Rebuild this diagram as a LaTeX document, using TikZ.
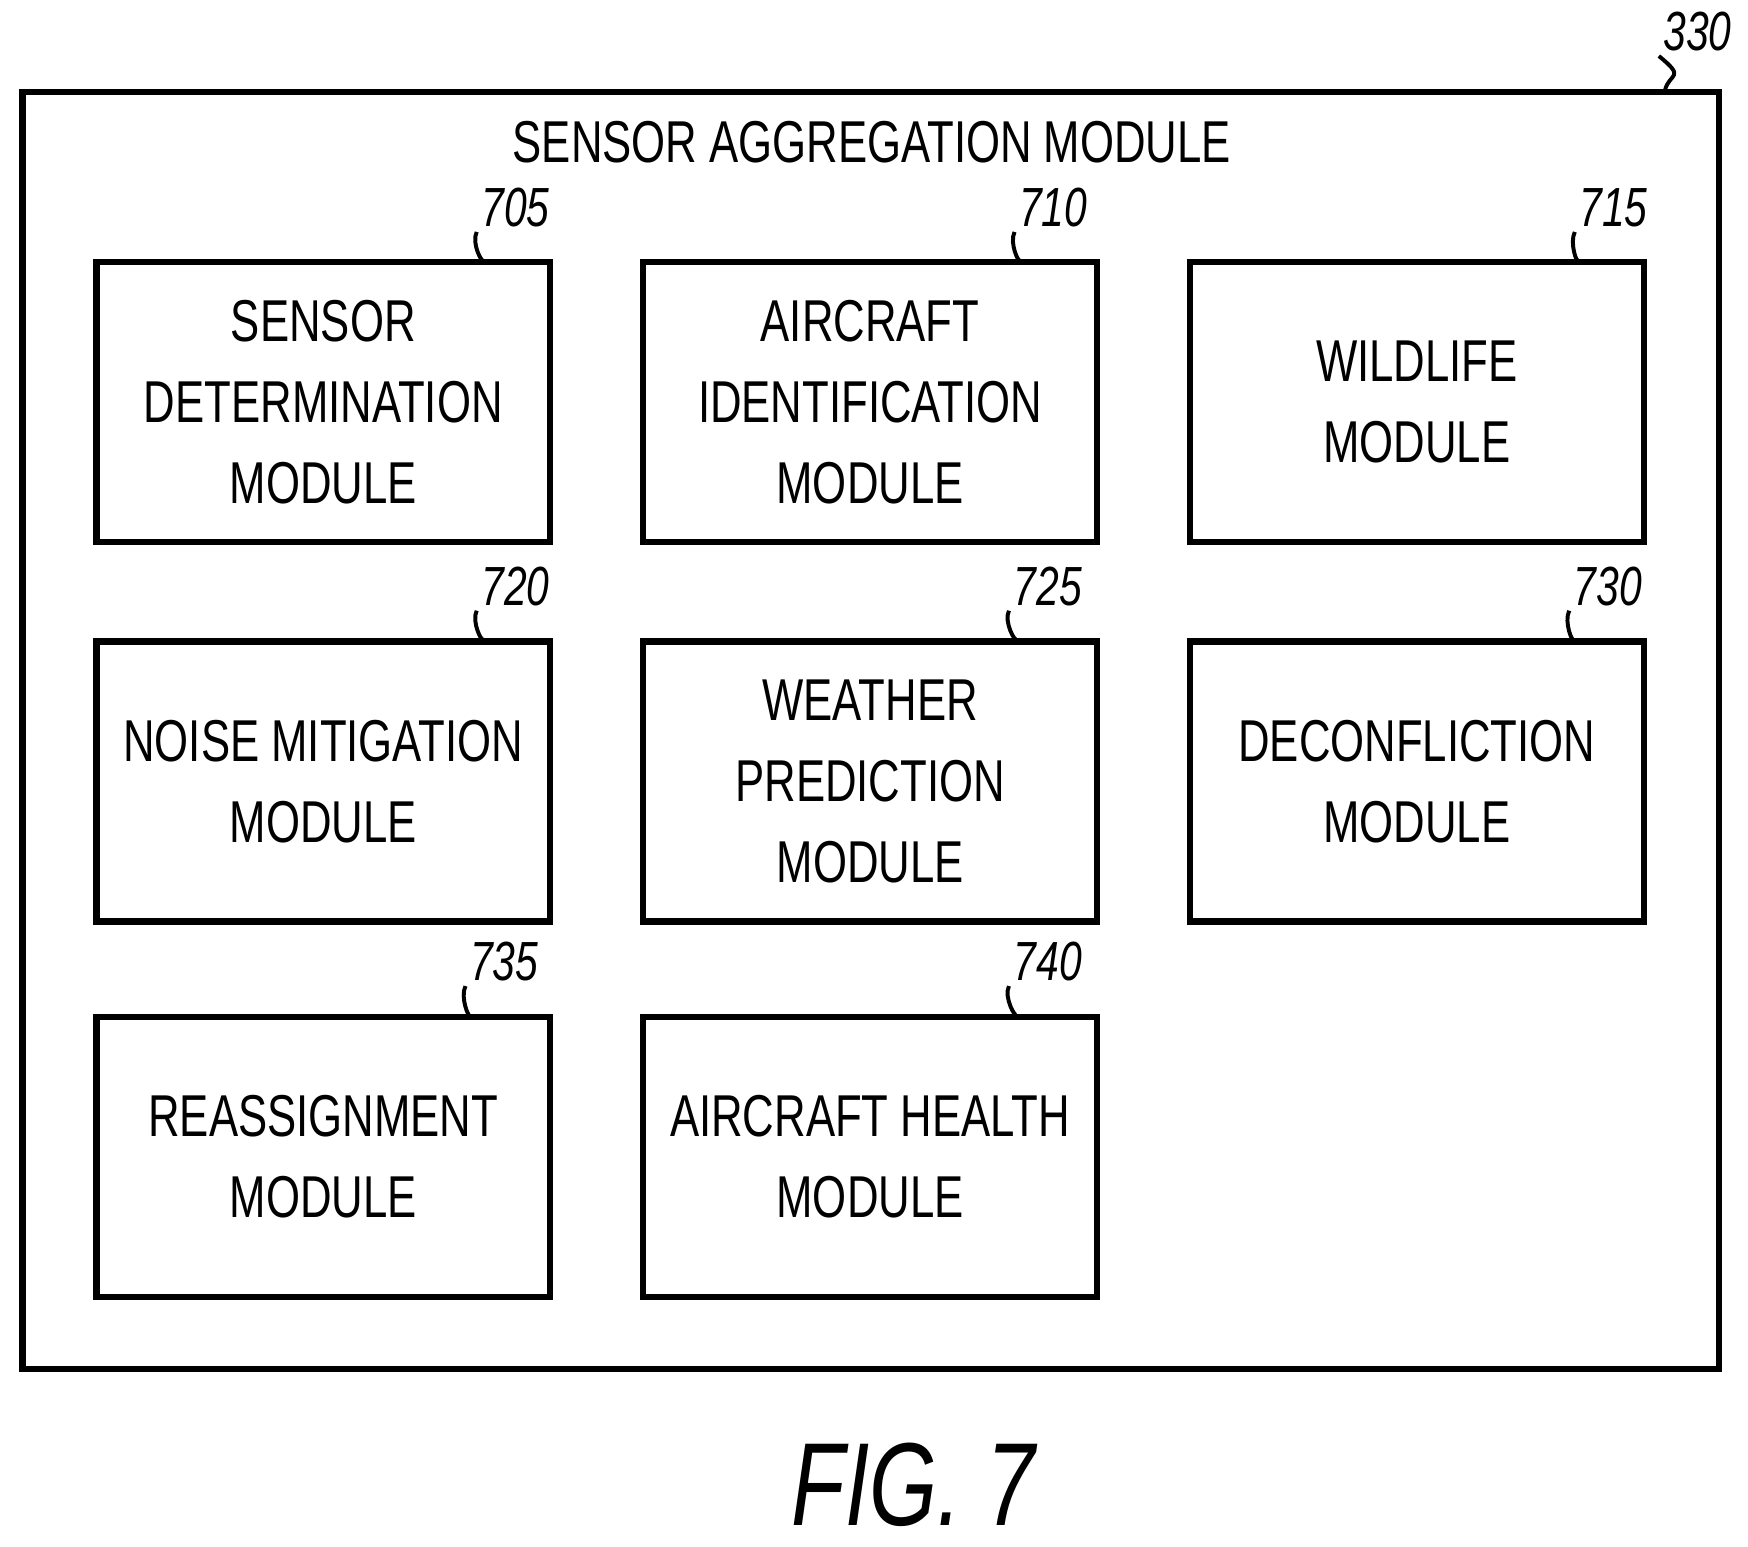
\documentclass[tikz,border=0pt]{standalone}
\usepackage{fontspec}
\setmainfont{Liberation Sans}[FakeStretch=0.74]
\usetikzlibrary{positioning}
\tikzset{
  module/.style={draw, line width=1.6pt, minimum width=4.05cm, minimum height=2.5cm, align=center, font=\fontsize{15}{20.5}\selectfont},
  refnum/.style={font=\itshape\fontsize{14}{16}\selectfont, anchor=south, inner sep=1pt},
  leader/.style={line width=1pt}
}
\begin{document}
\begin{tikzpicture}

\useasboundingbox (0,0) rectangle (15.6,-13.8);

\draw [line width=1.6pt] (0.2,-0.82) rectangle (15.34,-12.22);
\node [font=\fontsize{15}{18}\selectfont] (title) at (7.78,-1.27) {SENSOR AGGREGATION MODULE};
\node [refnum] (n330) at (15.15,-0.5) {330};
\draw [leader] (14.86,-0.8) .. controls (14.9,-0.65) and (15.05,-0.7) .. (n330.south west);

% first row
\node [module] (sensdet) at (2.885,-3.59) {SENSOR\\DETERMINATION\\MODULE};
\node [module] (acid) at (7.765,-3.59) {AIRCRAFT\\IDENTIFICATION\\MODULE};
\node [module] (wild) at (12.645,-3.59) {WILDLIFE\\MODULE};

% second row
\node [module] (noise) at (2.885,-6.975) {NOISE MITIGATION\\MODULE};
\node [module] (weather) at (7.765,-6.975) {WEATHER\\PREDICTION\\MODULE};
\node [module] (decon) at (12.645,-6.975) {DECONFLICTION\\MODULE};

% third row
\node [module] (reassign) at (2.885,-10.325) {REASSIGNMENT\\MODULE};
\node [module] (health) at (7.765,-10.325) {AIRCRAFT HEALTH\\MODULE};

% reference numerals
\node [refnum] (n705) at (4.6,-2.07) {705};
\draw [leader] ([xshift=-0.63cm]sensdet.north east) .. controls +(0,-0.05) and +(-0.05,-0.1) .. (n705.south west);
\node [refnum] (n710) at (9.4,-2.07) {710};
\draw [leader] ([xshift=-0.72cm]acid.north east) .. controls +(0,-0.05) and +(-0.05,-0.1) .. (n710.south west);
\node [refnum] (n715) at (14.4,-2.07) {715};
\draw [leader] ([xshift=-0.62cm]wild.north east) .. controls +(0,-0.05) and +(-0.05,-0.1) .. (n715.south west);
\node [refnum] (n720) at (4.6,-5.45) {720};
\draw [leader] ([xshift=-0.63cm]noise.north east) .. controls +(0,-0.05) and +(-0.05,-0.1) .. (n720.south west);
\node [refnum] (n725) at (9.35,-5.45) {725};
\draw [leader] ([xshift=-0.75cm]weather.north east) .. controls +(0,-0.05) and +(-0.05,-0.1) .. (n725.south west);
\node [refnum] (n730) at (14.35,-5.45) {730};
\draw [leader] ([xshift=-0.66cm]decon.north east) .. controls +(0,-0.05) and +(-0.05,-0.1) .. (n730.south west);
\node [refnum] (n735) at (4.5,-8.8) {735};
\draw [leader] ([xshift=-0.75cm]reassign.north east) .. controls +(0,-0.05) and +(-0.05,-0.1) .. (n735.south west);
\node [refnum] (n740) at (9.35,-8.8) {740};
\draw [leader] ([xshift=-0.75cm]health.north east) .. controls +(0,-0.05) and +(-0.05,-0.1) .. (n740.south west);

\node [font=\itshape\fontsize{30}{34}\selectfont] (fig) at (8.15,-13.25) {FIG. 7};

\end{tikzpicture}
\end{document}
